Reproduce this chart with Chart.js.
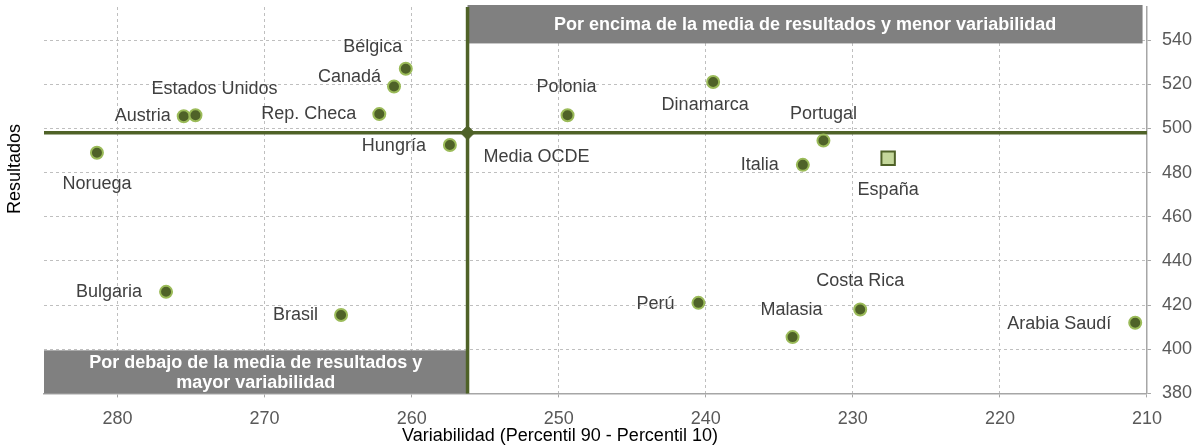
<!DOCTYPE html>
<html>
<head>
<meta charset="utf-8">
<script src="https://cdn.jsdelivr.net/npm/chart.js@4"></script>
<style>
  html, body { margin: 0; padding: 0; background: #fff; }
</style>
</head>
<body>
<canvas id="myChart" width="1198" height="446"></canvas>
<script>
// datos: variabilidad (P90 - P10) y resultados medios
var paises = ['Noruega', 'Austria', 'Estados Unidos', 'Rep. Checa', 'Canadá', 'Bélgica', 'Hungría',
  'Polonia', 'Dinamarca', 'Portugal', 'Italia', 'Perú', 'Malasia', 'Costa Rica', 'Arabia Saudí',
  'Bulgaria', 'Brasil'];
var variabilidad = [281.4, 275.5, 274.7, 262.2, 261.2, 260.4, 257.4,
  249.4, 239.5, 232.0, 233.4, 240.5, 234.1, 229.5, 210.8,
  276.7, 264.8];
var resultados = [489, 505.5, 506, 506.5, 519, 527, 492.5,
  506, 521, 494.5, 483.5, 421, 405.5, 418, 412,
  426, 415.5];

var espana = { nombre: 'España', x: 227.6, y: 486.5 };
var mediaOCDE = { nombre: 'Media OCDE', x: 256.2, y: 498 };

var xTicks = [280, 270, 260, 250, 240, 230, 220, 210];
var yTicks = [380, 400, 420, 440, 460, 480, 500, 520, 540];

// posición de cada etiqueta respecto al punto: [dx, dy, alineación]
var etiquetas = {
  'Noruega': [0, 31, 'center'],
  'Austria': [-13, 0, 'right'],
  'Estados Unidos': [19, -26, 'center'],
  'Rep. Checa': [-23, 0, 'right'],
  'Canadá': [-13, -9, 'right'],
  'Bélgica': [-33, -22, 'center'],
  'Hungría': [-24, 1, 'right'],
  'Polonia': [-1, -28, 'center'],
  'Dinamarca': [-8, 23, 'center'],
  'Portugal': [0, -27, 'center'],
  'Italia': [-24, 0, 'right'],
  'Perú': [-24, 1, 'right'],
  'Malasia': [-1, -27, 'center'],
  'Costa Rica': [0, -28, 'center'],
  'Arabia Saudí': [-24, 1, 'right'],
  'Bulgaria': [-24, 0, 'right'],
  'Brasil': [-23, 0, 'right'],
  'España': [0, 32, 'center'],
  'Media OCDE': [69, 24, 'center']
};

var verde = '#4f6228';
var verdeClaro = '#9bbb59';
var fuente = "'Liberation Sans', Arial, sans-serif";

var puntos = paises.map(function (p, i) { return { x: variabilidad[i], y: resultados[i], nombre: p }; });

var cuadrantes = {
  id: 'cuadrantes',
  beforeDatasetsDraw: function (chart) {
    var ctx = chart.ctx, a = chart.chartArea, x = chart.scales.x, y = chart.scales.y;
    var mx = x.getPixelForValue(mediaOCDE.x), my = y.getPixelForValue(mediaOCDE.y);
    ctx.save();
    // cajas grises
    ctx.fillStyle = '#808080';
    var topBottom = y.getPixelForValue(538.5);
    var topRight = x.getPixelForValue(210.3);
    ctx.fillRect(mx, a.top - 2, topRight - mx, topBottom - a.top + 2);
    var botTop = y.getPixelForValue(399.5);
    ctx.fillRect(a.left, botTop, mx - a.left, a.bottom - botTop);
    ctx.fillStyle = '#ffffff';
    ctx.font = 'bold 18px ' + fuente;
    ctx.textAlign = 'center';
    ctx.textBaseline = 'middle';
    ctx.fillText('Por encima de la media de resultados y menor variabilidad', (mx + topRight) / 2, (a.top + topBottom) / 2);
    var cx = (a.left + mx) / 2;
    ctx.fillText('Por debajo de la media de resultados y', cx, botTop + 13);
    ctx.fillText('mayor variabilidad', cx, botTop + 33);
    // líneas de la media
    ctx.strokeStyle = verde;
    ctx.lineWidth = 3.5;
    ctx.beginPath();
    ctx.moveTo(a.left, my);
    ctx.lineTo(a.right, my);
    ctx.moveTo(mx, a.top);
    ctx.lineTo(mx, a.bottom);
    ctx.stroke();
    ctx.restore();
  },
  afterDatasetsDraw: function (chart) {
    var ctx = chart.ctx;
    ctx.save();
    ctx.font = '18px ' + fuente;
    ctx.fillStyle = '#404040';
    ctx.textBaseline = 'middle';
    chart.data.datasets.forEach(function (ds, di) {
      var meta = chart.getDatasetMeta(di);
      meta.data.forEach(function (el, i) {
        var nombre = ds.data[i].nombre;
        var e = etiquetas[nombre];
        ctx.textAlign = e[2];
        ctx.fillText(nombre, el.x + e[0], el.y + e[1]);
      });
    });
    ctx.restore();
  },
  afterDraw: function (chart) {
    var ctx = chart.ctx;
    ctx.save();
    ctx.font = '18px ' + fuente;
    ctx.fillStyle = '#000000';
    ctx.textAlign = 'center';
    ctx.textBaseline = 'middle';
    ctx.fillText('Variabilidad (Percentil 90 - Percentil 10)', 560, 436);
    ctx.translate(15, 169);
    ctx.rotate(-Math.PI / 2);
    ctx.fillText('Resultados', 0, 0);
    ctx.restore();
  }
};

function sinRelleno(s) {
  s.paddingTop = 0; s.paddingBottom = 0; s.paddingLeft = 0; s.paddingRight = 0;
}

var ctx = document.getElementById('myChart').getContext('2d');
var myChart = new Chart(ctx, {
  type: 'scatter',
  data: {
    datasets: [{
      label: 'Países',
      data: puntos,
      pointStyle: 'circle',
      pointRadius: 6,
      pointBackgroundColor: verde,
      pointBorderColor: verdeClaro,
      pointBorderWidth: 2
    }, {
      label: 'España',
      data: [espana],
      pointStyle: 'rect',
      pointRadius: 9.5,
      pointBackgroundColor: '#c4d79b',
      pointBorderColor: verde,
      pointBorderWidth: 2
    }, {
      label: 'Media OCDE',
      data: [mediaOCDE],
      pointStyle: 'rectRot',
      pointRadius: 7,
      pointBackgroundColor: verde,
      pointBorderColor: verde,
      pointBorderWidth: 1
    }]
  },
  options: {
    responsive: false,
    animation: false,
    layout: { autoPadding: false, padding: { left: 44, top: 7, right: -5, bottom: 5 } },
    plugins: {
      legend: { display: false },
      tooltip: { enabled: false }
    },
    scales: {
      x: {
        type: 'linear',
        reverse: true,
        min: 210,
        max: 285,
        afterBuildTicks: function (s) { s.ticks = xTicks.map(function (v) { return { value: v }; }); },
        afterFit: sinRelleno,
        ticks: { color: '#595959', font: { size: 18, family: fuente }, padding: 11 },
        grid: { color: '#bfbfbf', tickLength: 4, tickColor: '#a6a6a6', tickBorderDash: [] },
        border: { color: '#a6a6a6', width: 1.5, dash: [3, 3] }
      },
      y: {
        position: 'right',
        min: 380,
        max: 555,
        afterBuildTicks: function (s) { s.ticks = yTicks.map(function (v) { return { value: v }; }); },
        afterFit: sinRelleno,
        ticks: { color: '#595959', font: { size: 18, family: fuente }, padding: 11 },
        grid: { color: '#bfbfbf', tickLength: 4, tickColor: '#a6a6a6', tickBorderDash: [] },
        border: { color: '#a6a6a6', width: 1.5, dash: [3, 3] }
      }
    }
  },
  plugins: [cuadrantes]
});
</script>
</body>
</html>
